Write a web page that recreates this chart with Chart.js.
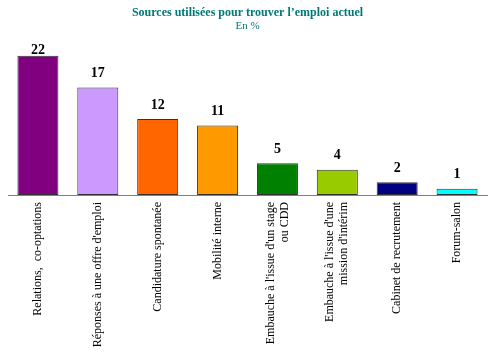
<!DOCTYPE html>
<html>
<head>
<meta charset="utf-8">
<script src="https://cdn.jsdelivr.net/npm/chart.js@4/dist/chart.umd.min.js"></script>
<style>
  html, body { margin: 0; padding: 0; background: #fff; }
  #wrap { width: 500px; height: 355px; }
</style>
</head>
<body>
<div id="wrap"><canvas id="c" width="500" height="355"></canvas></div>
<script>
const categories = [
  ["Relations,  co-optations"],
  ["Réponses à une offre d'emploi"],
  ["Candidature spontanée"],
  ["Mobilité interne"],
  ["Embauche à l'issue d'un stage", "ou CDD"],
  ["Embauche à l'issue d'une", "mission d'intérim"],
  ["Cabinet de recrutement"],
  ["Forum-salon"]
];
const values = [22, 17, 12, 11, 5, 4, 2, 1];
const barColors = ["#800080", "#cc99ff", "#ff6600", "#ff9900", "#008000", "#99cc00", "#000080", "#00ffff"];
const titleText = "Sources utilisées pour trouver l’emploi actuel";
const subtitleText = "En %";

const SERIF = "'Liberation Serif', 'Times New Roman', serif";

const valueLabels = {
  id: 'valueLabels',
  afterDatasetsDraw(chart) {
    const ctx = chart.ctx;
    const meta = chart.getDatasetMeta(0);
    ctx.save();
    ctx.font = "bold 14px " + SERIF;
    ctx.fillStyle = "#000";
    ctx.textAlign = "center";
    ctx.textBaseline = "middle";
    meta.data.forEach((bar, i) => {
      const y = Math.max(bar.y - 14, chart.chartArea.top + 10);
      ctx.fillText(String(values[i]), bar.x, y);
    });
    ctx.restore();
  }
};

const xLabels = {
  id: 'xLabels',
  afterDraw(chart) {
    const ctx = chart.ctx;
    const xs = chart.scales.x;
    const lh = 14;
    ctx.save();
    ctx.font = "12px " + SERIF;
    ctx.fillStyle = "#000";
    ctx.textAlign = "right";
    ctx.textBaseline = "middle";
    categories.forEach((lines, i) => {
      const px = xs.getPixelForTick(i);
      const n = lines.length;
      lines.forEach((ln, j) => {
        const off = (j - (n - 1) / 2) * lh;
        ctx.save();
        ctx.translate(px + off, xs.top + 7);
        ctx.rotate(-Math.PI / 2);
        ctx.fillText(ln, 0, 0);
        ctx.restore();
      });
    });
    ctx.restore();
  }
};

new Chart(document.getElementById('c'), {
  type: 'bar',
  data: {
    labels: categories,
    datasets: [{
      data: values,
      backgroundColor: barColors,
      borderColor: "#333333",
      borderWidth: 1,
      borderSkipped: false,
      barPercentage: 0.685,
      categoryPercentage: 1.0
    }]
  },
  options: {
    responsive: false,
    animation: false,
    devicePixelRatio: 1,
    layout: { padding: { left: 8, right: 13, top: 0, bottom: 0 } },
    plugins: {
      legend: { display: false },
      tooltip: { enabled: false },
      title: {
        display: true,
        text: titleText,
        color: "#007878",
        font: { family: SERIF, size: 12, weight: 'bold', lineHeight: 1.1 },
        padding: { top: 6, bottom: 0 }
      },
      subtitle: {
        display: true,
        text: subtitleText,
        color: "#007878",
        font: { family: SERIF, size: 11, weight: 'normal', lineHeight: 1.2 },
        padding: { top: 0, bottom: 7.6 }
      }
    },
    scales: {
      x: {
        grid: { display: false, drawTicks: false },
        border: { display: true, color: "#808080", width: 1 },
        ticks: { display: false },
        afterFit(scale) { scale.height = 160; }
      },
      y: {
        display: false,
        min: 0,
        max: 24.5
      }
    }
  },
  plugins: [valueLabels, xLabels]
});
</script>
</body>
</html>
